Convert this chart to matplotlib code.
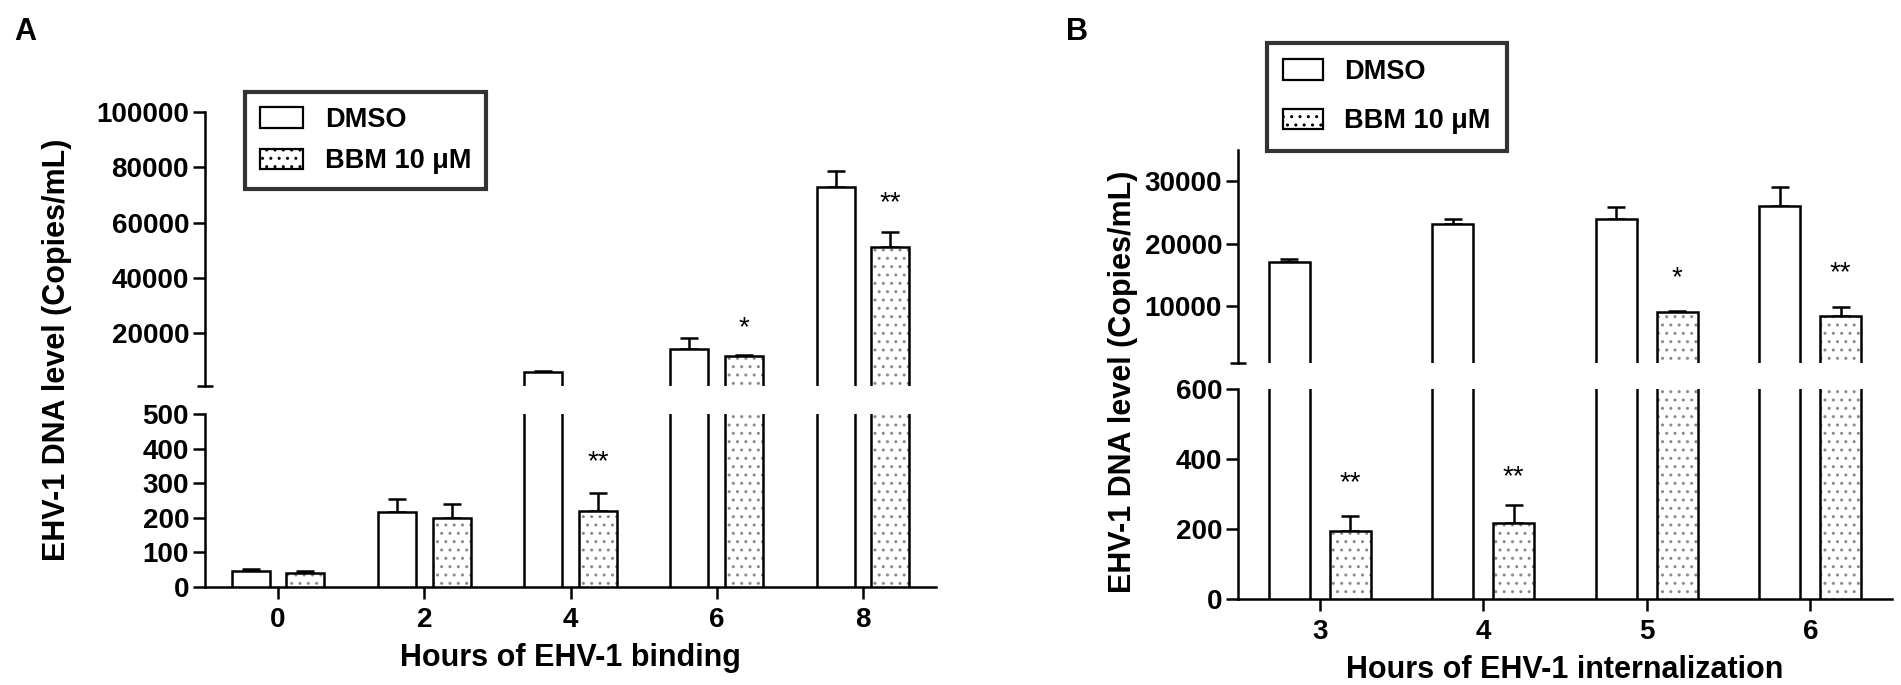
import numpy as np
import matplotlib
matplotlib.use("Agg")
import matplotlib.pyplot as plt
from matplotlib.patches import Patch

plt.rcParams['font.family'] = ['Liberation Sans', 'DejaVu Sans']
plt.rcParams['font.weight'] = 'bold'
plt.rcParams['hatch.linewidth'] = 1.0

# Panel A: binding
hours_a = np.array([0, 2, 4, 6, 8])
dmso_a = np.array([47, 217, 6000, 14400, 72900])
dmso_a_err = np.array([5, 36, 300, 3700, 5800])
bbm_a = np.array([40, 198, 219, 11700, 51000])
bbm_a_err = np.array([5, 42, 52, 500, 5600])
# (hour, y value, which axis, text)
stars_a = [(4, 362, 'low', '**'), (6, 21800, 'up', '*'), (8, 67100, 'up', '**')]

# Panel B: internalization
hours_b = np.array([3, 4, 5, 6])
dmso_b = np.array([17100, 23200, 24000, 26100])
dmso_b_err = np.array([500, 800, 1900, 2900])
bbm_b = np.array([195, 216, 9000, 8460])
bbm_b_err = np.array([43, 52, 200, 1340])
stars_b = [(3, 331, 'low', '**'), (4, 349, 'low', '**'), (5, 14500, 'up', '*'), (6, 15300, 'up', '**')]

labels = ['DMSO', 'BBM 10 μM']
W, H = 1901, 685
LW = 1.8


def rect(left, top, right, bottom):
    return [left / W, 1 - bottom / H, (right - left) / W, (bottom - top) / H]


def draw_bars(ax, x, dmso, dmso_err, bbm, bbm_err, off, width):
    ax.bar(x - off, dmso, width, facecolor='white', edgecolor='black', lw=LW, zorder=3)
    ax.bar(x + off, bbm, width, facecolor='white', edgecolor='#8a8a8a', hatch='..', lw=0, zorder=3)
    ax.bar(x + off, bbm, width, facecolor='none', edgecolor='black', lw=LW, zorder=4)
    ax.errorbar(x - off, dmso, yerr=[np.zeros(len(dmso)), dmso_err], fmt='none', ecolor='black',
                elinewidth=LW, capsize=6.5, capthick=LW, zorder=2)
    ax.errorbar(x + off, bbm, yerr=[np.zeros(len(bbm)), bbm_err], fmt='none', ecolor='black',
                elinewidth=LW, capsize=6.5, capthick=LW, zorder=2)


def style_pair(ax_up, ax_low, xlim, xticks, up_lim, up_ticks, low_lim, low_ticks, xlabel):
    for ax in (ax_up, ax_low):
        ax.set_xlim(*xlim)
        for s in ['top', 'right']:
            ax.spines[s].set_visible(False)
        ax.spines['left'].set_linewidth(LW)
        ax.spines['bottom'].set_linewidth(LW)
        ax.tick_params(axis='y', which='major', direction='out', length=8.5, width=LW,
                       labelsize=20, pad=3)
    ax_up.spines['bottom'].set_visible(False)
    ax_up.set_xticks([])
    ax_up.set_ylim(*up_lim)
    ax_up.set_yticks(up_ticks)
    ax_up.set_yticklabels([str(t) for t in up_ticks])
    ax_up.set_yticks([up_lim[0]], minor=True)
    ax_up.tick_params(axis='y', which='minor', direction='inout', length=11, width=LW)

    ax_low.set_ylim(*low_lim)
    ax_low.set_yticks(low_ticks)
    ax_low.set_yticks([low_lim[1]], minor=True)
    ax_low.tick_params(axis='y', which='minor', direction='in', length=4.5, width=LW)
    ax_low.set_xticks(xticks)
    ax_low.tick_params(axis='x', direction='out', length=8.5, width=LW, labelsize=20, pad=6)
    ax_low.set_xlabel(xlabel, fontsize=22, fontweight='bold', labelpad=7)


def add_stars(ax_up, ax_low, stars, off):
    for h, y, where, txt in stars:
        ax = ax_up if where == 'up' else ax_low
        ax.text(h + off, y, txt, ha='center', va='center', fontsize=20, fontweight='normal',
                zorder=5)


fig = plt.figure(figsize=(W / 100, H / 100), dpi=100)

# panel A axes
a_up = fig.add_axes(rect(205, 112, 936, 385.7))
a_low = fig.add_axes(rect(205, 414, 936, 587))
off_a, w_a = 0.373, 0.52
for ax in (a_up, a_low):
    draw_bars(ax, hours_a, dmso_a, dmso_a_err, bbm_a, bbm_a_err, off_a, w_a)
style_pair(a_up, a_low, (-1, 9), hours_a, (1000, 100000), [20000, 40000, 60000, 80000, 100000],
           (0, 500), [0, 100, 200, 300, 400, 500], 'Hours of EHV-1 binding')
add_stars(a_up, a_low, stars_a, off_a)

# panel B axes
b_up = fig.add_axes(rect(1238, 150, 1892, 362.7))
b_low = fig.add_axes(rect(1238, 389, 1892, 599))
off_b, w_b = 0.1865, 0.251
for ax in (b_up, b_low):
    draw_bars(ax, hours_b, dmso_b, dmso_b_err, bbm_b, bbm_b_err, off_b, w_b)
style_pair(b_up, b_low, (2.5, 6.5), hours_b, (900, 35000), [10000, 20000, 30000],
           (0, 600), [0, 200, 400, 600], 'Hours of EHV-1 internalization')
add_stars(b_up, b_low, stars_b, off_b)

# y labels spanning both halves
fig.text(57 / W, 1 - 350 / H, 'EHV-1 DNA level (Copies/mL)', rotation=90, ha='center',
         va='center', fontsize=22, fontweight='bold')
fig.text(1123 / W, 1 - 382 / H, 'EHV-1 DNA level (Copies/mL)', rotation=90, ha='center',
         va='center', fontsize=22, fontweight='bold')

# panel letters
fig.text(25 / W, 1 - 32 / H, 'A', ha='center', va='center', fontsize=22, fontweight='bold')
fig.text(1077 / W, 1 - 32 / H, 'B', ha='center', va='center', fontsize=22, fontweight='bold')

handles = [Patch(facecolor='white', edgecolor='black', lw=1.6),
           Patch(facecolor='white', edgecolor='black', hatch='..', lw=1.6)]

leg_a = fig.legend(handles, labels, loc='upper left', bbox_to_anchor=(245 / W, 1 - 92 / H),
                   frameon=True, fancybox=False, edgecolor='black', fontsize=19.5,
                   handlelength=1.6, handleheight=0.8, handletextpad=0.8, labelspacing=0.57,
                   borderpad=0.55, borderaxespad=0)
leg_a.get_frame().set_linewidth(3)

leg_b = fig.legend(handles, labels, loc='upper left', bbox_to_anchor=(1267 / W, 1 - 43 / H),
                   frameon=True, fancybox=False, edgecolor='black', fontsize=19.5,
                   handlelength=1.45, handleheight=0.8, handletextpad=0.8, labelspacing=0.85,
                   borderpad=0.6, borderaxespad=0)
leg_b.get_frame().set_linewidth(3)

fig.savefig('out.png', dpi=100)
